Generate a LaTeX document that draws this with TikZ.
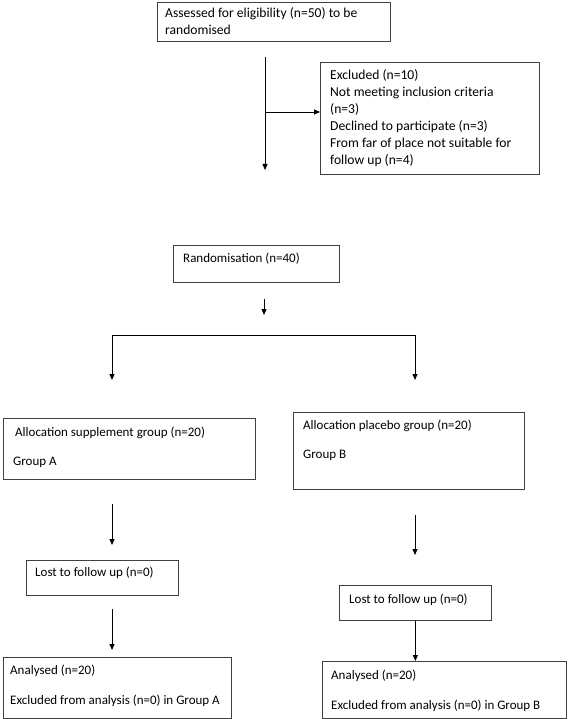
\documentclass[tikz,border=0pt]{standalone}
\usepackage{fontspec}
\setmainfont{Carlito}
\usetikzlibrary{arrows.meta}
\begin{document}
\begin{tikzpicture}[x=1pt,y=-1pt,
  box/.style={draw=black!75,line width=0.8pt,rectangle,inner sep=0,anchor=north west},
  txt/.style={anchor=west,inner sep=0,font=\fontsize{13}{15}\selectfont,text height=9pt,text depth=3pt},
  bigtxt/.style={txt,font=\fontsize{13.6}{16}\selectfont},
  arr/.style={line width=0.8pt,-{Triangle[length=6pt,width=5pt]}},
  ln/.style={line width=0.8pt}]
\useasboundingbox (0,0) rectangle (567,719);
% boxes
\node[box,minimum width=233pt,minimum height=39pt] (elig) at (157,2) {};
\node[box,minimum width=219pt,minimum height=112pt] (excl) at (320,62) {};
\node[box,minimum width=166pt,minimum height=37pt] (rand) at (173,245) {};
\node[box,minimum width=252pt,minimum height=61pt] (allocA) at (3,418) {};
\node[box,minimum width=231pt,minimum height=77pt] (allocB) at (293,412) {};
\node[box,minimum width=152pt,minimum height=35pt] (lostA) at (26,560) {};
\node[box,minimum width=152pt,minimum height=35pt] (lostB) at (339,585) {};
\node[box,minimum width=228pt,minimum height=61pt] (anaA) at (3,657) {};
\node[box,minimum width=244pt,minimum height=57pt] (anaB) at (322,661) {};
% texts
\node[bigtxt] (t1) at (165,15) {Assessed for eligibility (n=50) to be};
\node[bigtxt] (t2) at (165,32) {randomised};
\node[bigtxt] (t3) at (330,77) {Excluded (n=10)};
\node[bigtxt] (t4) at (330,94) {Not meeting inclusion criteria};
\node[bigtxt] (t5) at (330,111) {(n=3)};
\node[bigtxt] (t6) at (330,128) {Declined to participate (n=3)};
\node[bigtxt] (t7) at (330,145) {From far of place not suitable for};
\node[bigtxt] (t8) at (330,162) {follow up (n=4)};
\node[txt] (t9) at (183,259) {Randomisation (n=40)};
\node[txt] (t10) at (15,433) {Allocation supplement group (n=20)};
\node[txt] (t11) at (13,462) {Group A};
\node[txt] (t12) at (303,426) {Allocation placebo group (n=20)};
\node[txt] (t13) at (303,455) {Group B};
\node[txt] (t14) at (35,573) {Lost to follow up (n=0)};
\node[txt] (t15) at (349,600) {Lost to follow up (n=0)};
\node[txt] (t16) at (10,671) {Analysed (n=20)};
\node[txt] (t17) at (10,701) {Excluded from analysis (n=0) in Group A};
\node[txt] (t18) at (331,676) {Analysed (n=20)};
\node[txt] (t19) at (331,706) {Excluded from analysis (n=0) in Group B};
% connector coordinates
\coordinate (m1) at (265,57);
\coordinate (m2) at (265,170);
\coordinate (b1) at (265,112);
\coordinate (r1) at (264,299);
\coordinate (r2) at (264,315);
\coordinate (sL) at (112,335);
\coordinate (sR) at (415,335);
\coordinate (eL) at (112,380);
\coordinate (eR) at (415,380);
\coordinate (a1) at (112,504);
\coordinate (a2) at (112,545);
\coordinate (a3) at (112,609);
\coordinate (a4) at (112,650);
\coordinate (c1) at (415,515);
\coordinate (c2) at (415,555);
% connectors
\draw[arr] (m1) -- (m2);
\draw[arr] (b1) -- (b1 -| excl.west);
\draw[arr] (r1) -- (r2);
\draw[ln] (sL) -- (sR);
\draw[arr] (sL) -- (eL);
\draw[arr] (sR) -- (eR);
\draw[arr] (a1) -- (a2);
\draw[arr] (a3) -- (a4);
\draw[arr] (c1) -- (c2);
\draw[arr] (lostB.south) -- (lostB.south |- anaB.north);
\end{tikzpicture}
\end{document}
